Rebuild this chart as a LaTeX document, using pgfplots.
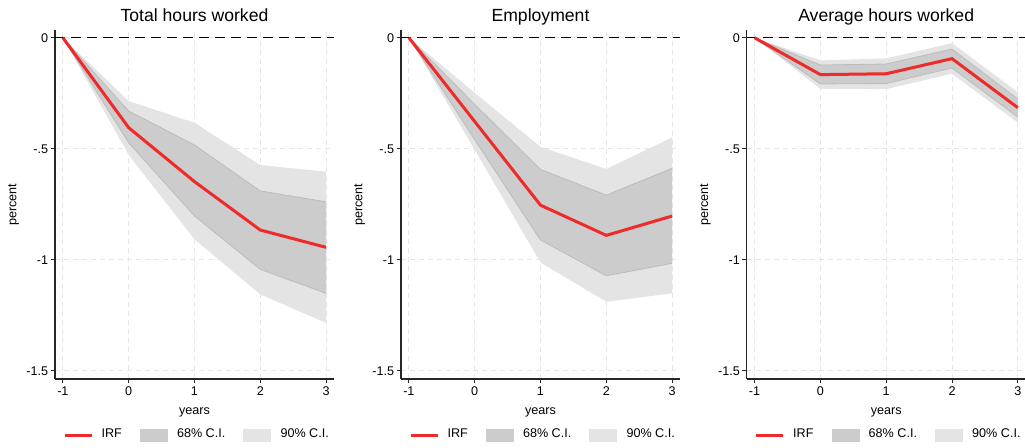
\documentclass[border=0pt]{standalone}
\usepackage{fontspec}
\setmainfont{Liberation Sans}
\usepackage{pgfplots}
\pgfplotsset{compat=1.18}
\usepackage{pgfplotstable}
\usepgfplotslibrary{fillbetween}

\definecolor{irfred}{RGB}{238,42,42}
\definecolor{ci68}{RGB}{204,204,204}
\definecolor{ci68edge}{RGB}{188,188,188}
\definecolor{ci90}{RGB}{228,228,228}
\definecolor{gridc}{RGB}{230,230,230}

\pgfplotstableread{
x irf lo68 hi68 lo90 hi90
-1 0 0 0 0 0
0 -0.405 -0.473 -0.330 -0.528 -0.285
1 -0.648 -0.803 -0.483 -0.908 -0.383
2 -0.866 -1.043 -0.690 -1.156 -0.573
3 -0.944 -1.151 -0.739 -1.284 -0.603
}\tot

\pgfplotstableread{
x irf lo68 hi68 lo90 hi90
-1 0 0 0 0 0
0 -0.377 -0.459 -0.300 -0.505 -0.248
1 -0.754 -0.911 -0.593 -1.012 -0.491
2 -0.890 -1.072 -0.709 -1.189 -0.591
3 -0.803 -1.016 -0.588 -1.151 -0.449
}\emp

\pgfplotstableread{
x irf lo68 hi68 lo90 hi90
-1 0 0 0 0 0
0 -0.166 -0.208 -0.123 -0.230 -0.102
1 -0.162 -0.206 -0.118 -0.231 -0.093
2 -0.094 -0.136 -0.051 -0.162 -0.024
3 -0.315 -0.357 -0.276 -0.382 -0.245
}\avg

\pgfplotsset{
 irfleg/.style={legend image code/.code={\draw[irfred, line width=1.5pt] (0pt,0pt) -- (13.5pt,0pt); \path (14.7pt,0pt);}},
 ci68leg/.style={legend image code/.code={\fill[ci68] (0pt,-3pt) rectangle (13.5pt,3pt); \path (14.7pt,0pt);}},
 ci90leg/.style={legend image code/.code={\fill[ci90] (0pt,-3pt) rectangle (13.5pt,3pt); \path (14.7pt,0pt);}},
 panel/.style={
  width=139.5pt, height=174.5pt, scale only axis,
  anchor=south west,
  xmin=-1.12, xmax=3.12, ymin=-1.537, ymax=0.035,
  axis x line*=bottom, axis y line*=left,
  axis line style={line width=0.6pt, black!85},
  xtick={-1,0,1,2,3}, xticklabels={-1,0,1,2,3},
  ytick={-1.5,-1,-0.5,0}, yticklabels={-1.5,-1,-.5,0},
  tick align=outside, major tick length=2.2pt,
  tick style={line width=0.5pt, black!85},
  grid=major,
  major grid style={gridc, dash pattern=on 2.5pt off 2pt, line width=0.5pt},
  tick label style={font=\fontsize{6.3}{7}\selectfont},
  xticklabel style={yshift=2pt},
  yticklabel style={xshift=2.3pt},
  label style={font=\fontsize{6.3}{7}\selectfont},
  every axis title shift=0pt,
  title style={at={(0.5,1)}, anchor=base, yshift=4.2pt, font=\fontsize{8.8}{10}\selectfont},
  xlabel={years},
  xlabel style={at={(axis description cs:0.5,0)}, anchor=base, yshift=-17.5pt},
  ylabel={percent},
  ylabel style={at={(axis description cs:-0.148,0.5)}, anchor=center, rotate=0},
  legend columns=3,
  legend style={draw=none, fill=none, font=\fontsize{6.3}{7}\selectfont,
    at={(axis description cs:0.518,-0.1605)}, anchor=center,
    /tikz/every even column/.append style={column sep=5.5pt},
    nodes={inner xsep=3.5pt}},
 }
}

\newcommand{\panel}[3]{%
\begin{axis}[panel, at={(#3,34pt)}, title={#2}]
 \addlegendimage{irfleg}\addlegendentry{IRF}
 \addlegendimage{ci68leg}\addlegendentry{68\% C.I.}
 \addlegendimage{ci90leg}\addlegendentry{90\% C.I.}
 \addplot[name path=hn, draw=none, forget plot] table[x=x,y=hi90]{#1};
 \addplot[name path=ln, draw=none, forget plot] table[x=x,y=lo90]{#1};
 \addplot[ci90, forget plot] fill between[of=hn and ln];
 \addplot[name path=hs, draw=ci68edge, line width=0.4pt, forget plot] table[x=x,y=hi68]{#1};
 \addplot[name path=ls, draw=ci68edge, line width=0.4pt, forget plot] table[x=x,y=lo68]{#1};
 \addplot[ci68, forget plot] fill between[of=hs and ls];
 \addplot[black, dash pattern=on 5pt off 3pt, line width=0.6pt, forget plot] coordinates {(-1.12,0) (3.12,0)};
 \addplot[irfred, line width=1.5pt, forget plot] table[x=x,y=irf]{#1};
\end{axis}}

\begin{document}
\begin{tikzpicture}
\panel{\tot}{Total hours worked}{27.5pt}
\panel{\emp}{Employment}{200.5pt}
\panel{\avg}{Average hours worked}{373.35pt}
\pgfresetboundingbox
\path (0,0) rectangle (512.5pt,223.5pt);
\end{tikzpicture}
\end{document}
